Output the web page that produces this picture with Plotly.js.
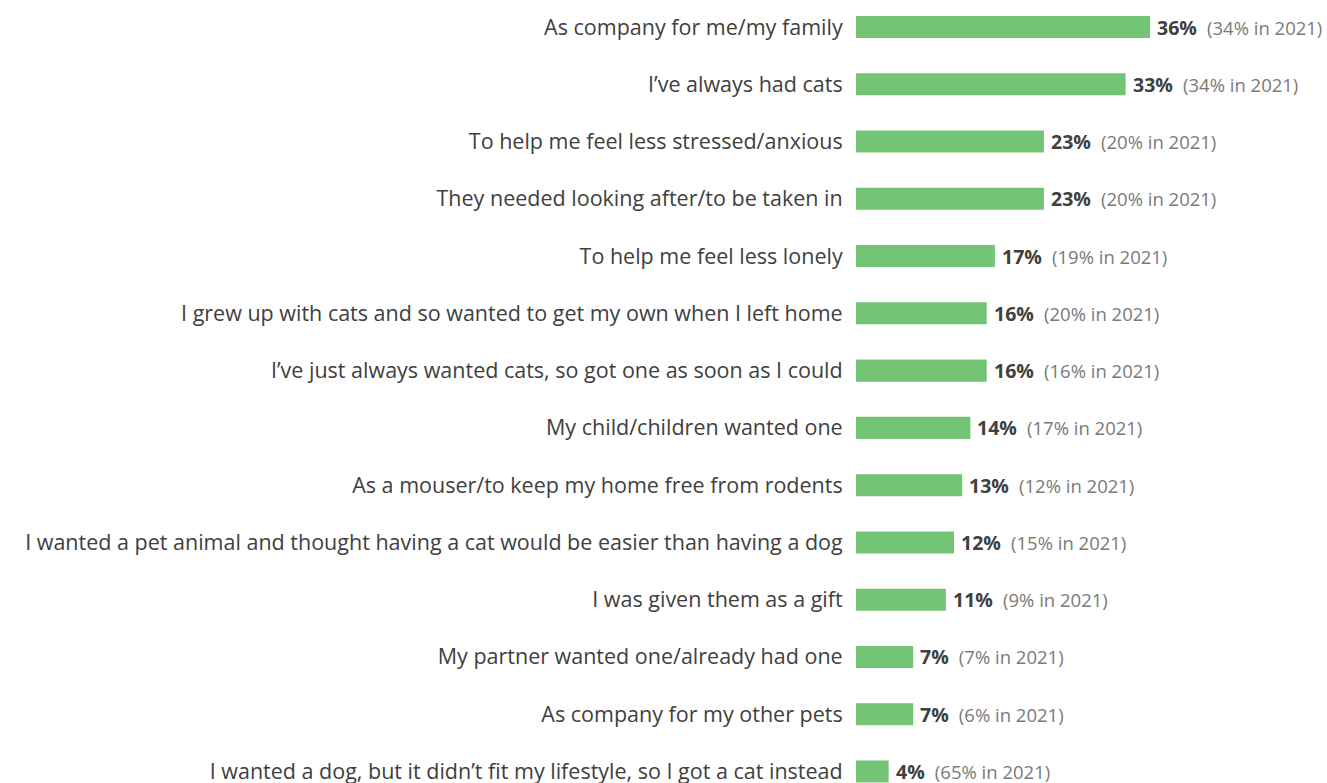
<!DOCTYPE html>
<html><head><meta charset="utf-8">
<script src="https://cdn.plot.ly/plotly-3.0.1.min.js"></script>
<style>html,body{margin:0;padding:0;background:#fff;}#chart{width:1327px;height:783px;}</style>
</head><body><div id="chart"></div>
<script>
const categories = [
  "As company for me/my family",
  "I\u2019ve always had cats",
  "To help me feel less stressed/anxious",
  "They needed looking after/to be taken in",
  "To help me feel less lonely",
  "I grew up with cats and so wanted to get my own when I left home",
  "I\u2019ve just always wanted cats, so got one as soon as I could",
  "My child/children wanted one",
  "As a mouser/to keep my home free from rodents",
  "I wanted a pet animal and thought having a cat would be easier than having a dog",
  "I was given them as a gift",
  "My partner wanted one/already had one",
  "As company for my other pets",
  "I wanted a dog, but it didn\u2019t fit my lifestyle, so I got a cat instead"
];
const values2023 = [36, 33, 23, 23, 17, 16, 16, 14, 13, 12, 11, 7, 7, 4];
const values2021 = [34, 34, 20, 20, 19, 20, 16, 17, 12, 15, 9, 7, 6, 65];

const textColor = "#404040";
const annotations = categories.map((c, i) => ({
  x: values2023[i], y: c, xref: "x", yref: "y",
  xanchor: "left", yanchor: "middle", xshift: 5, showarrow: false,
  text: "<b>" + values2023[i] + "%</b>\u00a0\u00a0<span style='color:#7a7a7a;font-size:18.5px;font-weight:normal'>(" + values2021[i] + "% in 2021)</span>",
  font: {family: "Open Sans", size: 19.5, color: textColor}
}));

Plotly.newPlot("chart", [{
  type: "bar", orientation: "h",
  y: categories, x: values2023,
  marker: {color: "#74c476"},
  width: 0.385,
  hoverinfo: "none"
}], {
  width: 1327, height: 783,
  margin: {l: 856, r: 0, t: 0, b: 0, pad: 0},
  paper_bgcolor: "#fff", plot_bgcolor: "#fff",
  showlegend: false,
  xaxis: {range: [0, 57.65], visible: false, fixedrange: true},
  yaxis: {
    type: "category", range: [13.2008, -0.4715],
    showgrid: false, zeroline: false, showline: false,
    ticks: "outside", ticklen: 8, tickcolor: "rgba(0,0,0,0)",
    tickfont: {family: "Open Sans", size: 21.5, color: textColor},
    automargin: false
  },
  annotations: annotations
}, {staticPlot: true});
</script></body></html>
